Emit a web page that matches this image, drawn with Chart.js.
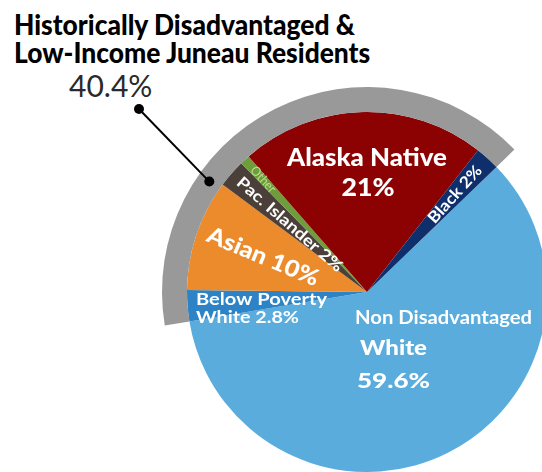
<!DOCTYPE html>
<html>
<head>
<meta charset="utf-8">
<script src="https://cdn.jsdelivr.net/npm/chart.js@4.4.0/dist/chart.umd.min.js"></script>
<style>
  html, body { margin: 0; padding: 0; background: #fff; }
  body { width: 542px; height: 472px; overflow: hidden; position: relative; font-family: Lato, sans-serif; }
  #title { position: absolute; left: 14px; top: 10px; font-weight: 900; font-size: 29px; line-height: 28px; color: #000; transform: scaleX(0.91); transform-origin: left top; white-space: nowrap; }
  #total { position: absolute; left: 69px; top: 70px; font-size: 30px; line-height: 30px; color: #2a2a2a; }
  canvas { position: absolute; left: 0; top: 0; }
</style>
</head>
<body>
<div id="title">Historically Disadvantaged &amp;<br>Low-Income Juneau Residents</div>
<div id="total">40.4%</div>
<canvas id="chart" width="542" height="472"></canvas>
<script>
// outer ring: disadvantaged vs not
const groups = ["Non Disadvantaged White", "Historically Disadvantaged & Low-Income"];
const groupShares = [59.6, 40.4];

// inner pie, clockwise from the Black / Non Disadvantaged edge
const categories = ["Non Disadvantaged White", "Below Poverty White", "Asian", "Pac. Islander", "Other", "Alaska Native", "Black"];
const shares = [59.6, 2.8, 10, 2.5, 0.9, 22.0, 2.2];

const colors = ["#5aacdc", "#2d83c5", "#ec8b2b", "#4b3f39", "#6e9d3b", "#8c0202", "#0e2f6c"];

// how each slice is labelled (w = width the text is stretched to)
const labelStyle = {
  "Non Disadvantaged White": { mode: "flat", align: "left", lines: [
    { text: "Non Disadvantaged", dx: -12, dy: 32, size: 18, w: 177 },
    { text: "White", dx: -7, dy: 63, size: 21, w: 67, weight: 900 },
    { text: "59.6%", dx: -10, dy: 96, size: 21, w: 73, weight: 900 } ] },
  "Below Poverty White": { mode: "flat", align: "left", lines: [
    { text: "Below Poverty", dx: -171, dy: 13, size: 17, w: 131 },
    { text: "White 2.8%", dx: -171, dy: 31, size: 17, w: 103 } ] },
  "Alaska Native": { mode: "flat", align: "center", lines: [
    { text: "Alaska Native", dx: 0, dy: -126, size: 25, w: 160, weight: 900 },
    { text: "21%", dx: 1, dy: -96, size: 25, w: 53, weight: 900 } ] },
  "Asian": { mode: "radial", text: "Asian 10%", frac: 0.61, inward: true, tilt: 4, size: 23, w: 119, weight: 900 },
  "Pac. Islander": { mode: "radial", text: "Pac. Islander 2%", frac: 0.57, inward: true, size: 16, w: 135 },
  "Other": { mode: "radial", text: "Other", frac: 0.85, inward: true, size: 13, w: 31, weight: 400, color: "#b9dc8e" },
  "Black": { mode: "radial", text: "Black 2%", frac: 0.73, inward: false, size: 16, w: 72 }
};

function stretchedText(ctx, text, x, y, w) {
  const m = ctx.measureText(text).width;
  const sx = w ? w / m : 1;
  ctx.save();
  ctx.translate(x, y);
  ctx.scale(sx, 1);
  ctx.fillText(text, 0, 0);
  ctx.restore();
}

const sliceLabels = {
  id: "sliceLabels",
  afterDatasetsDraw(chart) {
    const ctx = chart.ctx;
    const meta = chart.getDatasetMeta(1);
    meta.data.forEach((arc, i) => {
      const st = labelStyle[categories[i]];
      if (!st) return;
      const p = arc.getProps(["x", "y", "startAngle", "endAngle", "outerRadius"], true);
      ctx.save();
      ctx.fillStyle = st.color || "#fff";
      ctx.textBaseline = "alphabetic";
      if (st.mode === "flat") {
        ctx.textAlign = st.align;
        st.lines.forEach(l => {
          ctx.font = (l.weight || 700) + " " + l.size + "px Lato";
          stretchedText(ctx, l.text, p.x + l.dx, p.y + l.dy, l.w);
        });
      } else {
        const mid = (p.startAngle + p.endAngle) / 2;
        const r = p.outerRadius * st.frac;
        ctx.translate(p.x + Math.cos(mid) * r, p.y + Math.sin(mid) * r);
        ctx.rotate((st.inward ? mid + Math.PI : mid) + (st.tilt || 0) * Math.PI / 180);
        ctx.textAlign = "center";
        ctx.textBaseline = "middle";
        ctx.font = (st.weight || 700) + " " + st.size + "px Lato";
        stretchedText(ctx, st.text, 0, 0, st.w);
      }
      ctx.restore();
    });

    // leader from the 40.4% label to the grey ring
    const ring = chart.getDatasetMeta(0).data[1].getProps(["x", "y", "innerRadius", "outerRadius"], true);
    const a = (305 - 90) * Math.PI / 180;
    const rr = (ring.innerRadius + ring.outerRadius) / 2;
    const ex = ring.x + Math.cos(a) * rr, ey = ring.y + Math.sin(a) * rr;
    const sx = 139, sy = 109;
    ctx.save();
    ctx.strokeStyle = "#000";
    ctx.lineWidth = 2;
    ctx.beginPath();
    ctx.moveTo(sx, sy);
    ctx.lineTo(ex, ey);
    ctx.stroke();
    ctx.fillStyle = "#000";
    [[sx, sy], [ex, ey]].forEach(([x, y]) => {
      ctx.beginPath();
      ctx.arc(x, y, 5, 0, Math.PI * 2);
      ctx.fill();
    });
    ctx.restore();
  }
};

new Chart(document.getElementById("chart"), {
  type: "pie",
  data: {
    labels: categories,
    datasets: [
      {
        label: "Group",
        data: groupShares,
        backgroundColor: ["rgba(0,0,0,0)", "#999999"],
        borderWidth: 0,
        weight: 25
      },
      {
        label: "Share",
        data: shares,
        backgroundColor: colors,
        borderWidth: 0,
        weight: 180
      }
    ]
  },
  options: {
    responsive: false,
    animation: false,
    events: [],
    rotation: 46,
    radius: 205,
    layout: { padding: { left: 292, right: 100, top: 212, bottom: 100 } },
    plugins: {
      legend: { display: false },
      tooltip: { enabled: false }
    }
  },
  plugins: [sliceLabels]
});
</script>
</body>
</html>
